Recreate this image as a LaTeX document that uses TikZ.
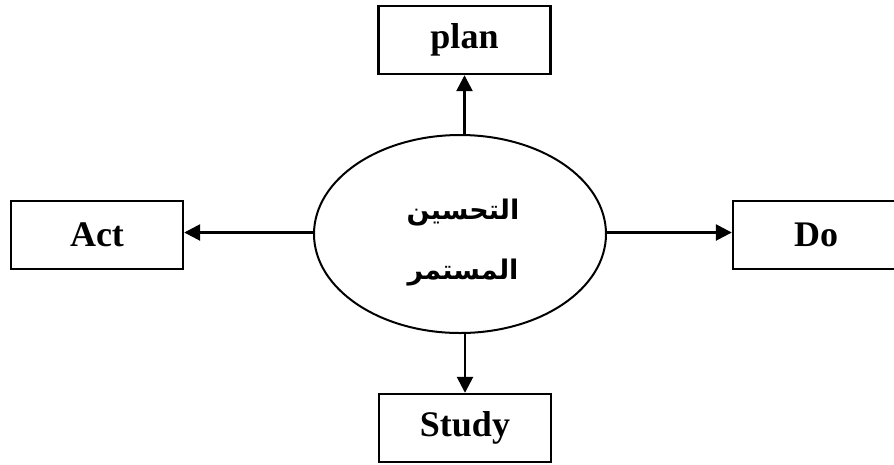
\documentclass[tikz,border=0pt]{standalone}
\usepackage{fontspec}
\setmainfont{Liberation Serif}
\newfontfamily\arabicfont[Script=Arabic,BoldFont=DejaVu Sans Bold]{DejaVu Sans}
\TeXXeTstate=1
\usetikzlibrary{shapes.geometric,arrows.meta}
\begin{document}
\begin{tikzpicture}[x=1pt,y=-1pt,
  stagebox/.style={draw,line width=2.4pt,minimum width=172pt,minimum height=68pt,
    inner sep=0pt,font=\fontsize{36}{40}\selectfont\bfseries},
  hub/.style={draw,ellipse,line width=2pt,minimum width=292pt,minimum height=198pt,inner sep=0pt},
  link/.style={line width=2.6pt,-{Triangle[length=16pt,width=16pt]}}]
\useasboundingbox (0,0) rectangle (894,464);
\begin{scope}
\clip (0,0) rectangle (894,464);
\node[hub] (core) at (460,234) {};
\node[stagebox] (plan) at (464.5,40) {plan};
\node[stagebox] (act) at (97,235) {Act};
\node[stagebox,minimum width=166pt] (do) at (816,235) {Do};
\node[stagebox] (study) at (465,428) {Study};
\end{scope}
\node[align=center,font=\arabicfont\bfseries\fontsize{27}{60}\selectfont] (label) at (463,243)
  {\beginR التحسين\endR\\\beginR المستمر\endR};
\draw[link] (core.north -| plan.south) -- (plan.south);
\draw[link] (core.south -| study.north) -- (study.north);
\draw[link] (core.west |- 0,232.5) -- (act.east |- 0,232.5);
\draw[link] (core.east |- 0,232.5) -- (do.west |- 0,232.5);
\end{tikzpicture}
\end{document}
